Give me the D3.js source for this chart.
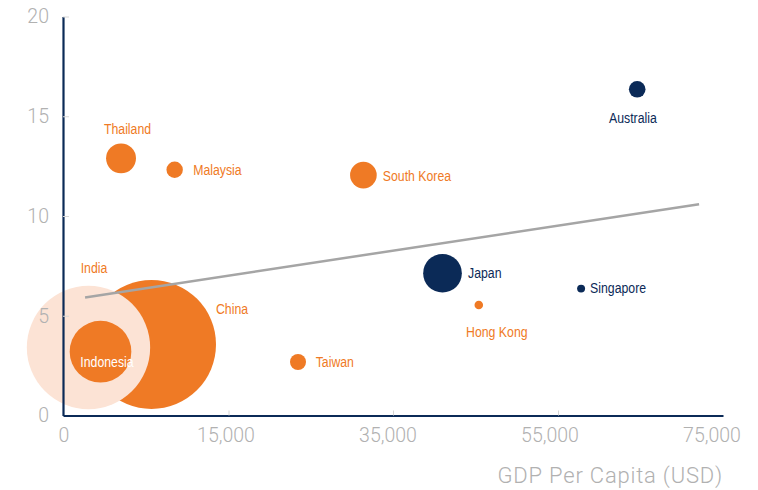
<!DOCTYPE html>
<html>
<head>
<meta charset="utf-8">
<script src="https://cdn.jsdelivr.net/npm/d3@7"></script>
<style>
  html, body { margin: 0; padding: 0; background: #fff; }
  svg { display: block; }
  .tick-label { font-family: Roboto, "Liberation Sans", sans-serif; font-weight: 300; fill: #b1b1b1; }
  .bubble-label { font-family: "Liberation Sans", Arial, sans-serif; font-size: 15px; }
</style>
</head>
<body>
<svg id="chart" width="758" height="490"></svg>
<script>
// Economies, GDP per capita (USD), y-axis value, bubble size and colour group
const countries = ["China", "India", "Indonesia", "Thailand", "Malaysia", "South Korea", "Taiwan", "Japan", "Hong Kong", "Singapore", "Australia"];
const gdpPerCapita = [8020, 2310, 3400, 5260, 10120, 31400, 23450, 41000, 45400, 57800, 64600];
const yValues = [3.56, 3.41, 3.20, 12.89, 12.32, 12.05, 2.68, 7.13, 5.54, 6.36, 16.35];
const sizes = [1357, 1240, 310, 73, 22, 58, 21, 122, 6, 5.2, 22.5];
const groups = ["em", "india", "em", "em", "em", "em", "em", "dev", "em", "dev", "dev"];

// Axis ticks
const xTicks = [0, 15000, 35000, 55000, 75000];
const xTickLabels = ["0", "15,000", "35,000", "55,000", "75,000"];
const yTicks = [0, 5, 10, 15, 20];
const xTitle = "GDP Per Capita (USD)";

// Trend line endpoints
const trendX = [2000, 72100];
const trendY = [5.92, 10.59];

const colors = { em: "#ef7a25", india: "#fce3d5", dev: "#0b2a57" };
const labelColors = { em: "#ef7a25", india: "#ef7a25", dev: "#0b2a57" };
const axisColor = "#0b2a57";

// Label placement relative to each bubble centre
const labelPlace = {
  "China":       { dx: 64.5, dy: -30.5, anchor: "start" },
  "India":       { dx: 5.5, dy: -74.5, anchor: "middle" },
  "Indonesia":   { dx: 6.5, dy: 15.5, anchor: "middle", fill: "#ffffff" },
  "Thailand":    { dx: 6.5, dy: -24.3, anchor: "middle" },
  "Malaysia":    { dx: 18.5, dy: 5.3, anchor: "start" },
  "South Korea": { dx: 19.4, dy: 5.7, anchor: "start" },
  "Taiwan":      { dx: 17.7, dy: 5, anchor: "start" },
  "Japan":       { dx: 25.5, dy: 4.7, anchor: "start" },
  "Hong Kong":   { dx: 18, dy: 32, anchor: "middle" },
  "Singapore":   { dx: 9, dy: 4.3, anchor: "start" },
  "Australia":   { dx: -4.3, dy: 33.4, anchor: "middle" }
};
const condense = 0.82; // horizontal squeeze for a condensed label face

const svg = d3.select("#chart");

// The x-axis spacing is uniform per tick, so the scale is piecewise across the tick values
const x = d3.scaleLinear().domain(xTicks).range([63, 228.5, 393, 558, 723]);
const y = d3.scaleLinear().domain([0, 20]).range([415.5, 16.5]);
const r = d3.scaleSqrt().domain([0, 1357]).range([0, 64.5]);
// Tick labels sit on a slightly tighter spacing than the tick marks
const tickLabelPos = d3.scaleLinear().domain([0, xTicks.length - 1]).range([63.5, 711.5]);

const data = countries.map((c, i) => ({
  name: c, gdp: gdpPerCapita[i], val: yValues[i], size: sizes[i], group: groups[i]
}));

// Bubbles (drawn in data order: China, then India over it, then Indonesia on top)
svg.append("g").selectAll("circle")
  .data(data)
  .join("circle")
  .attr("cx", d => x(d.gdp))
  .attr("cy", d => y(d.val))
  .attr("r", d => r(d.size))
  .attr("fill", d => colors[d.group]);

// Trend line
svg.append("line")
  .attr("x1", x(trendX[0])).attr("y1", y(trendY[0]))
  .attr("x2", x(trendX[1])).attr("y2", y(trendY[1]))
  .attr("stroke", "#a5a5a5")
  .attr("stroke-width", 2.5);

// Axes
const xAxis = d3.axisBottom(x).tickValues(xTicks)
  .tickFormat((d, i) => xTickLabels[i])
  .tickSizeInner(-5).tickSizeOuter(0).tickPadding(12);
const yAxis = d3.axisLeft(y).tickValues(yTicks)
  .tickSizeInner(-6).tickSizeOuter(0).tickPadding(14);

const gx = svg.append("g").attr("transform", `translate(0,${y(0)})`).call(xAxis);
const gy = svg.append("g").attr("transform", `translate(${x(0)},0)`).call(yAxis);

[gx, gy].forEach(g => {
  g.attr("font-family", null).attr("font-size", null);
  g.select(".domain").attr("stroke", axisColor).attr("stroke-width", 2.2);
  g.selectAll(".tick line").attr("stroke", "#d6d6d6").attr("stroke-width", 1);
  g.selectAll(".tick text").attr("class", "tick-label").style("font-size", "19.5px");
});
gx.selectAll(".tick text")
  .attr("dy", "0.71em").attr("y", 13)
  .attr("x", (d, i) => tickLabelPos(i) - x(d));
gx.selectAll(".tick").filter(d => d === 0 || d === 75000).select("line").remove();
gy.selectAll(".tick").filter(d => d === 0).select("line").remove();

// Axis title
svg.append("text")
  .attr("class", "tick-label")
  .attr("x", 723).attr("y", 483)
  .attr("text-anchor", "end")
  .style("font-size", "22px")
  .style("letter-spacing", "0.8px")
  .text(xTitle);

// Bubble labels, squeezed horizontally around their anchor point
svg.append("g").selectAll("g")
  .data(data)
  .join("g")
  .attr("transform", d => `translate(${x(d.gdp) + labelPlace[d.name].dx},${y(d.val) + labelPlace[d.name].dy}) scale(${condense},1)`)
  .append("text")
  .attr("class", "bubble-label")
  .attr("text-anchor", d => labelPlace[d.name].anchor)
  .attr("fill", d => labelPlace[d.name].fill || labelColors[d.group])
  .text(d => d.name);
</script>
</body>
</html>
